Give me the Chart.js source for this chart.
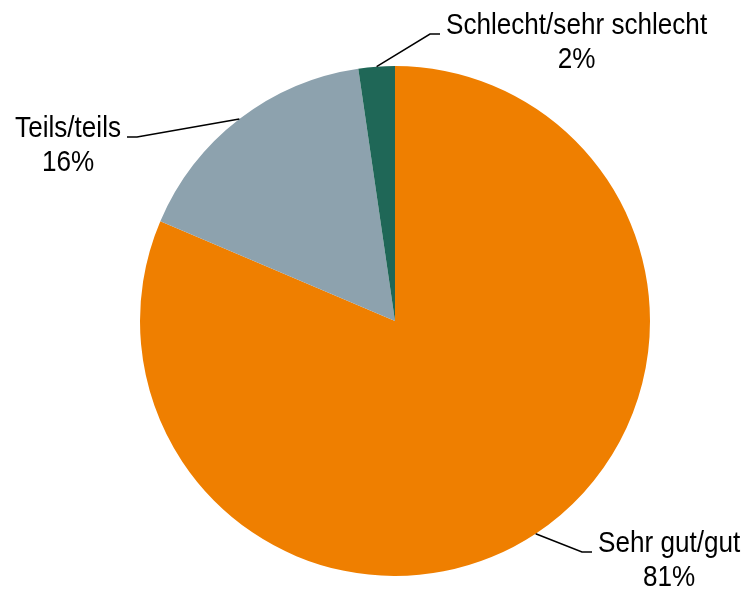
<!DOCTYPE html>
<html lang="de">
<head>
    <meta charset="UTF-8">
    <title>Bewertung</title>
    <script src="https://cdn.jsdelivr.net/npm/chart.js@4.4.0/dist/chart.umd.min.js"></script>
    <style>
        body {
            margin: 0;
            background-color: #FFFFFF;
        }
        #chart {
            display: block;
        }
    </style>
</head>
<body>
    <canvas id="chart" width="744" height="591"></canvas>

    <script>
        const categories = ['Sehr gut/gut', 'Teils/teils', 'Schlecht/sehr schlecht'];
        const shares = [81.4, 16.3, 2.3];
        const percentLabels = ['81%', '16%', '2%'];
        const sliceColors = ['#EF7F00', '#8DA2AE', '#1F6757'];

        // where the leader line bends and where the label sits
        const labelLayout = [
            { elbow: [582, 552], end: [592, 552], side: 'right' },
            { elbow: [137, 137], end: [127, 137], side: 'left' },
            { elbow: [430, 34], end: [440, 34], side: 'right' }
        ];

        // the original uses a narrow face; squeeze the regular one instead
        const fontFamily = '"Liberation Sans Narrow", "Arial Narrow", "Liberation Sans", Arial, sans-serif';
        const fontSize = 30;
        const squeeze = 0.87;

        function narrowText(ctx, text, x, y) {
            ctx.save();
            ctx.translate(x, y);
            ctx.scale(squeeze, 1);
            ctx.fillText(text, 0, 0);
            ctx.restore();
        }

        const outsideLabels = {
            id: 'outsideLabels',
            afterDraw(chart) {
                const ctx = chart.ctx;
                const meta = chart.getDatasetMeta(0);
                ctx.save();
                ctx.font = fontSize + 'px ' + fontFamily;
                ctx.fillStyle = '#000000';
                ctx.strokeStyle = '#000000';
                ctx.lineWidth = 1.5;
                ctx.textBaseline = 'alphabetic';
                ctx.textAlign = 'center';
                meta.data.forEach((arc, i) => {
                    const p = arc.getProps(['x', 'y', 'startAngle', 'endAngle', 'outerRadius'], true);
                    const mid = (p.startAngle + p.endAngle) / 2;
                    const sx = p.x + Math.cos(mid) * p.outerRadius;
                    const sy = p.y + Math.sin(mid) * p.outerRadius;
                    const lay = labelLayout[i];
                    ctx.beginPath();
                    ctx.moveTo(sx, sy);
                    ctx.lineTo(lay.elbow[0], lay.elbow[1]);
                    ctx.lineTo(lay.end[0], lay.end[1]);
                    ctx.stroke();

                    const w = ctx.measureText(categories[i]).width * squeeze;
                    const cx = lay.side === 'right' ? lay.end[0] + 6 + w / 2 : lay.end[0] - 6 - w / 2;
                    narrowText(ctx, categories[i], cx, lay.end[1]);
                    narrowText(ctx, percentLabels[i], cx, lay.end[1] + 34);
                });
                ctx.restore();
            }
        };

        const ctx = document.getElementById('chart').getContext('2d');
        new Chart(ctx, {
            type: 'pie',
            data: {
                labels: categories,
                datasets: [{
                    data: shares,
                    backgroundColor: sliceColors,
                    borderWidth: 0
                }]
            },
            options: {
                responsive: false,
                animation: false,
                layout: {
                    padding: { top: 66, bottom: 15, left: 140, right: 94 }
                },
                plugins: {
                    legend: { display: false },
                    tooltip: { enabled: false }
                }
            },
            plugins: [outsideLabels]
        });
    </script>
</body>
</html>
